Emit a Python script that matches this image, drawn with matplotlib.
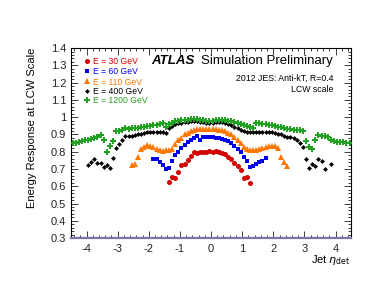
import numpy as np
import matplotlib
matplotlib.use("Agg")
import matplotlib.pyplot as plt
from matplotlib.lines import Line2D
from matplotlib.ticker import MultipleLocator, FuncFormatter

plt.rcParams['font.family'] = ['Liberation Sans', 'DejaVu Sans']

# eta bin centres (0.1 wide bins from -4.5 to 4.5)
eta_bins = np.round(np.arange(-4.45, 4.46, 0.1), 2)

labels = ["E = 30 GeV", "E = 60 GeV", "E = 110 GeV", "E = 400 GeV", "E = 1200 GeV"]

eta_start = [-1.35, -1.85, -2.55, -3.95, -4.45]

resp_30 = [0.622, 0.655, 0.645, 0.683, 0.725, 0.730, 0.752, 0.778, 0.800, 0.792,
           0.797, 0.800, 0.800, 0.805, 0.800, 0.805, 0.797, 0.790, 0.785, 0.772,
           0.757, 0.735, 0.715, 0.692, 0.645, 0.655, 0.617]

resp_60 = [0.758, 0.755, 0.742, 0.725, 0.700, 0.707, 0.745, 0.780, 0.800, 0.822,
           0.840, 0.855, 0.870, 0.880, 0.890, 0.865, 0.885, 0.888, 0.885, 0.885,
           0.882, 0.878, 0.872, 0.868, 0.860, 0.850, 0.835, 0.818, 0.797, 0.772,
           0.745, 0.712, 0.715, 0.727, 0.738, 0.748, 0.762]

resp_110 = [0.722, 0.730, 0.770, 0.815, 0.830, 0.838, 0.835, 0.830, 0.815, 0.808,
            0.807, 0.808, 0.812, 0.815, 0.845, 0.865, 0.882, 0.900, 0.910, 0.920,
            0.927, 0.930, 0.932, 0.932, 0.930, 0.930, 0.930, 0.930, 0.928, 0.925,
            0.918, 0.908, 0.900, 0.888, 0.865, 0.850, 0.830, 0.815, 0.810, 0.810,
            0.812, 0.815, 0.820, 0.825, 0.832, 0.835, 0.832, 0.820, 0.770, 0.742,
            0.715]

resp_400 = [0.725, 0.740, 0.755, 0.735, 0.732, 0.710, 0.722, 0.707, 0.765, 0.820,
            0.845, 0.870, 0.890, 0.890, 0.890, 0.895, 0.900, 0.905, 0.910, 0.912,
            0.912, 0.913, 0.913, 0.915, 0.917, 0.910, 0.935, 0.950, 0.958, 0.965,
            0.968, 0.970, 0.972, 0.975, 0.975, 0.975, 0.972, 0.970, 0.968, 0.965,
            0.968, 0.970, 0.972, 0.970, 0.965, 0.960, 0.952, 0.945, 0.935, 0.925,
            0.920, 0.915, 0.912, 0.913, 0.913, 0.913, 0.912, 0.912, 0.912, 0.912,
            0.910, 0.905, 0.900, 0.890, 0.888, 0.887, 0.882, 0.870, 0.848, 0.830,
            0.760, 0.705, 0.730, 0.715, 0.755, 0.745, 0.700, np.nan, 0.728]

resp_1200 = [0.848, 0.850, 0.856, 0.860, 0.865, 0.870, 0.875, 0.880, 0.887, 0.895,
             0.865, 0.800, 0.835, 0.862, 0.920, 0.920, 0.928, 0.935, 0.932, 0.935,
             0.938, 0.940, 0.942, 0.945, 0.947, 0.950, 0.953, 0.956, 0.960, 0.965,
             0.945, 0.958, 0.968, 0.978, 0.980, 0.982, 0.983, 0.985, 0.987, 0.988,
             0.987, 0.985, 0.982, 0.978, 0.975, 0.978, 0.982, 0.985, 0.985, 0.982,
             0.978, 0.975, 0.970, 0.965, 0.960, 0.955, 0.950, 0.945, 0.935, 0.968,
             0.965, 0.960, 0.958, 0.955, 0.952, 0.950, 0.945, 0.942, 0.938, 0.932,
             0.930, 0.928, 0.925, 0.925, 0.920, 0.860, 0.830, 0.815, 0.870, 0.895,
             0.893, 0.890, 0.885, 0.865, 0.860, 0.858, 0.857, 0.855, 0.852, 0.848]

series = [resp_30, resp_60, resp_110, resp_400, resp_1200]
colors = ["#d40000", "#0000ee", "#ff7700", "#000000", "#22a022"]
markers = ["o", "s", "^", "D", "P"]
msizes = [3.6, 3.3, 3.8, 2.5, 4.4]

fig = plt.figure(figsize=(3.82, 2.95), dpi=100)
ax = fig.add_axes([0.186, 0.193, 0.733, 0.644])

for vals, st, c, m, ms in zip(series, eta_start, colors, markers, msizes):
    i0 = int(np.argmin(np.abs(eta_bins - st)))
    x = eta_bins[i0:i0 + len(vals)]
    ax.plot(x, vals, linestyle='none', marker=m, color=c, markersize=ms,
            markeredgewidth=0, zorder=3)

ax.set_xlim(-4.5, 4.5)
ax.set_ylim(0.3, 1.4)
ax.xaxis.set_major_locator(MultipleLocator(1))
ax.xaxis.set_minor_locator(MultipleLocator(0.2))
ax.yaxis.set_major_locator(MultipleLocator(0.1))
ax.yaxis.set_minor_locator(MultipleLocator(0.02))
ax.yaxis.set_major_formatter(FuncFormatter(lambda v, p: ("%g" % round(v, 2))))
ax.xaxis.set_major_formatter(FuncFormatter(lambda v, p: ("%g" % round(v, 2))))
ax.tick_params(which='both', direction='in', top=True, right=True, labelsize=8,
               colors='#222222', width=0.6)
ax.tick_params(which='major', length=5)
ax.tick_params(which='minor', length=2.5)
ax.tick_params(axis='x', pad=4)
for s in ax.spines.values():
    s.set_linewidth(0.8)
ax.spines['bottom'].set_color('#7878a8')
ax.spines['bottom'].set_linewidth(1.6)

ax.set_ylabel("Energy Response at LCW Scale", fontsize=8, loc='top', labelpad=10)
fig.text(0.919, 0.108, r"Jet $\eta_{\mathrm{det}}$", fontsize=8, ha='right', va='baseline')

# legend (coloured text)
leg_y = [0.79, 0.756, 0.722, 0.691, 0.66]
for lab, c, m, ms, yy in zip(labels, colors, markers, msizes, leg_y):
    fig.text(0.243, yy, lab, color=c, fontsize=6.2, va='center', ha='left')
    fig.lines.append(Line2D([0.229], [yy + 0.002], marker=m, color=c,
                            markersize=ms, markeredgewidth=0,
                            transform=fig.transFigure, linestyle='none'))

fig.text(0.397, 0.793, "ATLAS", fontsize=9.5, fontweight='bold', fontstyle='italic',
         va='center', ha='left')
fig.text(0.525, 0.793, "Simulation Preliminary", fontsize=9.5, va='center', ha='left')
fig.text(0.872, 0.733, "2012 JES: Anti-kT, R=0.4", fontsize=6.3, va='center', ha='right')
fig.text(0.872, 0.698, "LCW scale", fontsize=6.3, va='center', ha='right')

fig.savefig("out.png", dpi=100)
